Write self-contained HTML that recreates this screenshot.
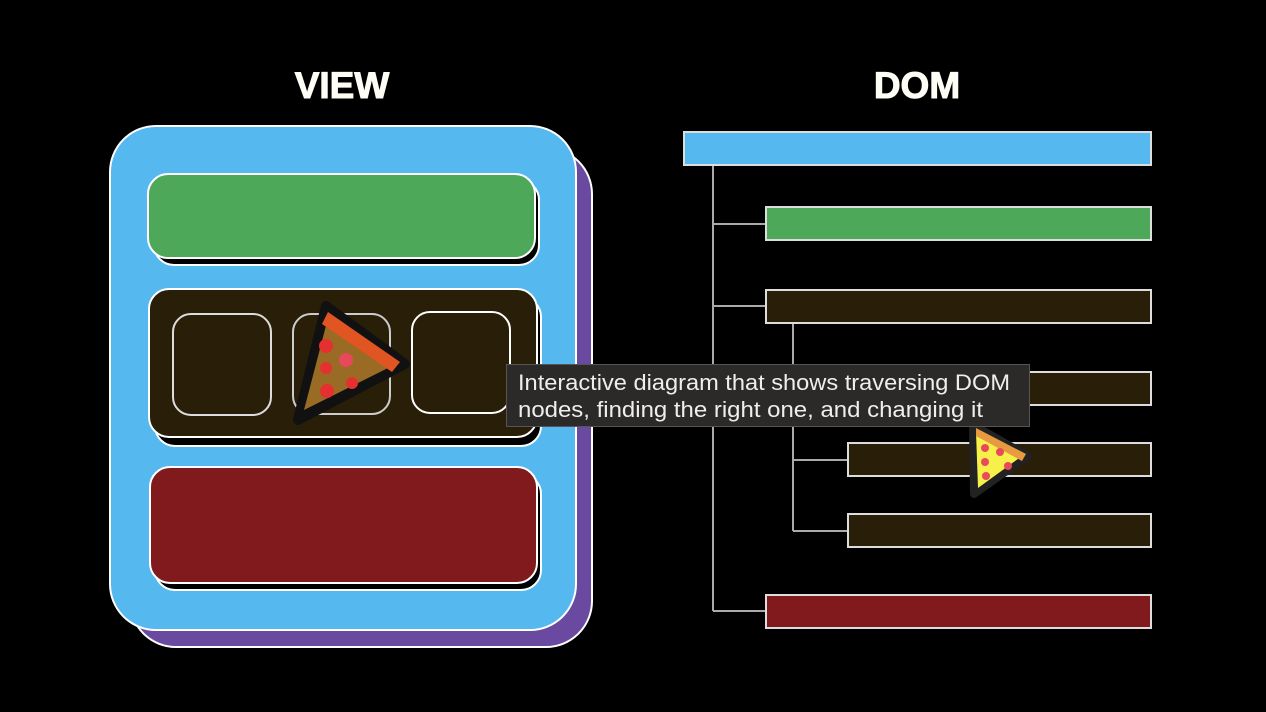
<!DOCTYPE html>
<html><head><meta charset="utf-8"><style>
html,body{margin:0;padding:0;background:#000;width:1266px;height:712px;overflow:hidden}
svg{display:block}
text{font-family:"Liberation Sans",sans-serif}
</style></head><body>
<svg width="1266" height="712" viewBox="0 0 1266 712">
<text x="342" y="98" text-anchor="middle" font-size="37" font-weight="900" fill="#fdfdf5" stroke="#fdfdf5" stroke-width="1">VIEW</text>
<text x="917" y="98" text-anchor="middle" font-size="37" font-weight="900" fill="#fdfdf5" stroke="#fdfdf5" stroke-width="1">DOM</text>

<g>
<rect x="130" y="148" width="462" height="499" rx="46" fill="#6a4aa0" stroke="#fff" stroke-width="2"/>
<rect x="110" y="126" width="466" height="504" rx="46" fill="#55b8ef" stroke="#fff" stroke-width="2"/>
<rect x="154" y="180" width="385" height="85" rx="20" fill="#000" stroke="#fff" stroke-width="2"/>
<rect x="148" y="174" width="387" height="84" rx="20" fill="#4ea85a" stroke="#fff" stroke-width="2"/>
<rect x="155" y="297" width="386" height="149" rx="20" fill="#000" stroke="#fff" stroke-width="2"/>
<rect x="149" y="289" width="388" height="148" rx="20" fill="#291e08" stroke="#fff" stroke-width="2"/>
<rect x="173" y="314" width="98" height="101" rx="18" fill="#291e08" stroke="#ddd" stroke-width="2"/>
<rect x="293" y="314" width="97" height="100" rx="18" fill="#291e08" stroke="#ccc" stroke-width="2"/>
<rect x="412" y="312" width="98" height="101" rx="18" fill="#291e08" stroke="#fff" stroke-width="2"/>
<rect x="155" y="474" width="386" height="116" rx="20" fill="#000" stroke="#fff" stroke-width="2"/>
<rect x="150" y="467" width="387" height="116" rx="20" fill="#801a1c" stroke="#fff" stroke-width="2"/>
</g>

<g>
<polygon points="326,306 405,364 298,420" fill="#111" stroke="#999" stroke-width="4" stroke-linejoin="round"/>
<polygon points="326,306 405,364 298,420" fill="none" stroke="#111" stroke-width="10" stroke-linejoin="round"/>
<polygon points="328,318 396,364 304,410" fill="#9a6b25"/>
<polygon points="328,312 400,362 392,372 322,324" fill="#e05522"/>
<circle cx="326" cy="346" r="7" fill="#e53030"/>
<circle cx="346" cy="360" r="7" fill="#e8485a"/>
<circle cx="326" cy="368" r="6" fill="#e53030"/>
<circle cx="327" cy="391" r="7" fill="#e53030"/>
<circle cx="352" cy="383" r="6" fill="#e53030"/>
</g>

<g stroke="#aaa" stroke-width="2" fill="none">
<path d="M713 165 V611 M713 224 H766 M713 306 H766 M713 611 H766 M793 323 V531 M793 388 H848 M793 460 H848 M793 531 H848"/>
</g>
<g stroke="#ddd" stroke-width="2">
<rect x="684" y="132" width="467" height="33" fill="#55b8ef"/>
<rect x="766" y="207" width="385" height="33" fill="#4ea85a"/>
<rect x="766" y="290" width="385" height="33" fill="#291e08"/>
<rect x="848" y="372" width="303" height="33" fill="#291e08"/>
<rect x="848" y="443" width="303" height="33" fill="#291e08"/>
<rect x="848" y="514" width="303" height="33" fill="#291e08"/>
<rect x="766" y="595" width="385" height="33" fill="#801a1c"/>
</g>

<g>
<polygon points="973,425 1028,456 974,494" fill="#222" stroke="#222" stroke-width="8" stroke-linejoin="round"/>
<polygon points="976,432 1022,456 978,488" fill="#f7f04a"/>
<polygon points="976,428 1026,454 1022,461 976,436" fill="#e89a40"/>
<circle cx="985" cy="448" r="4" fill="#e84a5a"/>
<circle cx="1000" cy="452" r="4" fill="#e84a5a"/>
<circle cx="985" cy="462" r="4" fill="#e84a5a"/>
<circle cx="1008" cy="466" r="4" fill="#e84a5a"/>
<circle cx="986" cy="476" r="4" fill="#e84a5a"/>
</g>

<g>
<rect x="506.5" y="364.5" width="523" height="62" fill="#2c2a28" stroke="#555" stroke-width="1"/>
<text x="518" y="390" font-size="22" fill="#eeeeee" textLength="492" lengthAdjust="spacingAndGlyphs">Interactive diagram that shows traversing DOM</text>
<text x="518" y="417" font-size="22" fill="#eeeeee" textLength="465" lengthAdjust="spacingAndGlyphs">nodes, finding the right one, and changing it</text>
</g>
</svg>
</body></html>
